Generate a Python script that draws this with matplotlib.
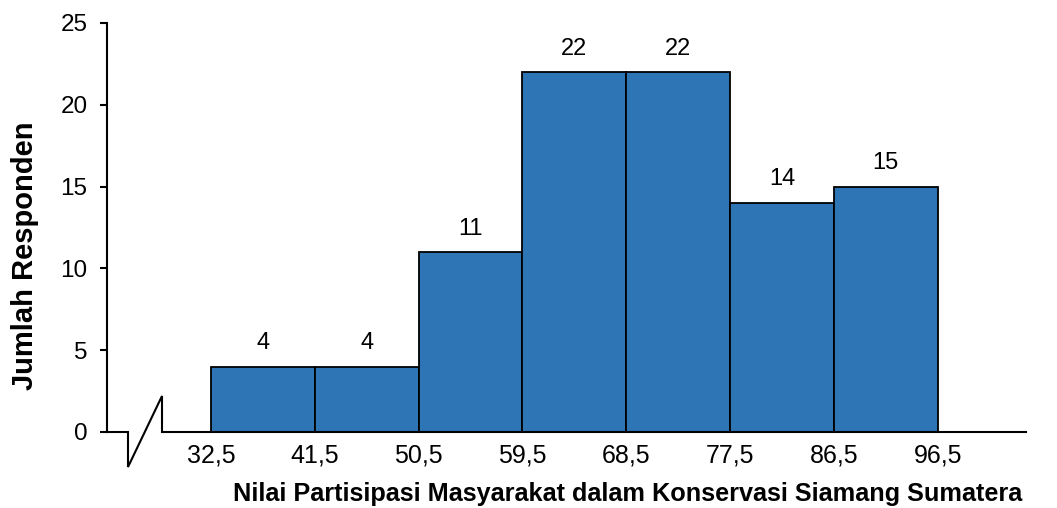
import matplotlib
matplotlib.use("Agg")
import matplotlib.pyplot as plt
import matplotlib.transforms as mtransforms

plt.rcParams['font.family'] = ['Liberation Sans', 'DejaVu Sans']

# Class boundaries and frequencies
boundaries = ["32,5", "41,5", "50,5", "59,5", "68,5", "77,5", "86,5", "96,5"]
counts = [4, 4, 11, 22, 22, 14, 15]
y_ticks = [0, 5, 10, 15, 20, 25]

fig = plt.figure(figsize=(10.57, 5.08), dpi=100)
ax = fig.add_axes([107 / 1057, (508 - 432) / 508, (1026 - 107) / 1057, (432 - 23) / 508])

positions = list(range(len(counts)))
ax.bar(positions, counts, width=1.0, align='edge', color='#2E75B6',
       edgecolor='black', linewidth=1.3)

for x, c in zip(positions, counts):
    ax.annotate(str(c), (x + 0.5, c), xytext=(0, 9), textcoords='offset points',
                ha='center', va='bottom', fontsize=17)

ax.set_xlim(-1.0, 7.85)
ax.set_ylim(0, 25)
ax.set_yticks(y_ticks)
ax.set_yticklabels([str(t) for t in y_ticks], fontsize=17.5)
ax.set_xticks(range(len(boundaries)))
ax.set_xticklabels(boundaries, fontsize=18)
ax.tick_params(axis='x', length=0, pad=8)
ax.tick_params(axis='y', direction='out', length=5, width=1.5, pad=9)

for side in ('top', 'right', 'bottom'):
    ax.spines[side].set_visible(False)
ax.spines['left'].set_linewidth(1.5)

# x axis with a break symbol near the origin
trans = mtransforms.blended_transform_factory(ax.transAxes, ax.transAxes)
w_px = 1026 - 107
h_px = 432 - 23
def px(xp, yp):
    return ((xp - 107) / w_px, (432 - yp) / h_px)
pts = [px(107, 432), px(128, 432), px(128, 467), px(162, 396), px(162, 432), px(1026, 432)]
ax.plot([p[0] for p in pts], [p[1] for p in pts], transform=trans, color='black',
        linewidth=1.5, clip_on=False, solid_joinstyle='miter')

ax.set_xlabel("Nilai Partisipasi Masyarakat dalam Konservasi Siamang Sumatera",
              fontsize=18.2, fontweight='bold', va='center')
ax.xaxis.set_label_coords((628 - 107) / w_px, (432 - 494) / h_px)
ax.set_ylabel("Jumlah Responden", fontsize=21, fontweight='bold', va='center')
ax.yaxis.set_label_coords((25 - 107) / w_px, (432 - 256) / h_px)

fig.savefig("out.png", dpi=100)
